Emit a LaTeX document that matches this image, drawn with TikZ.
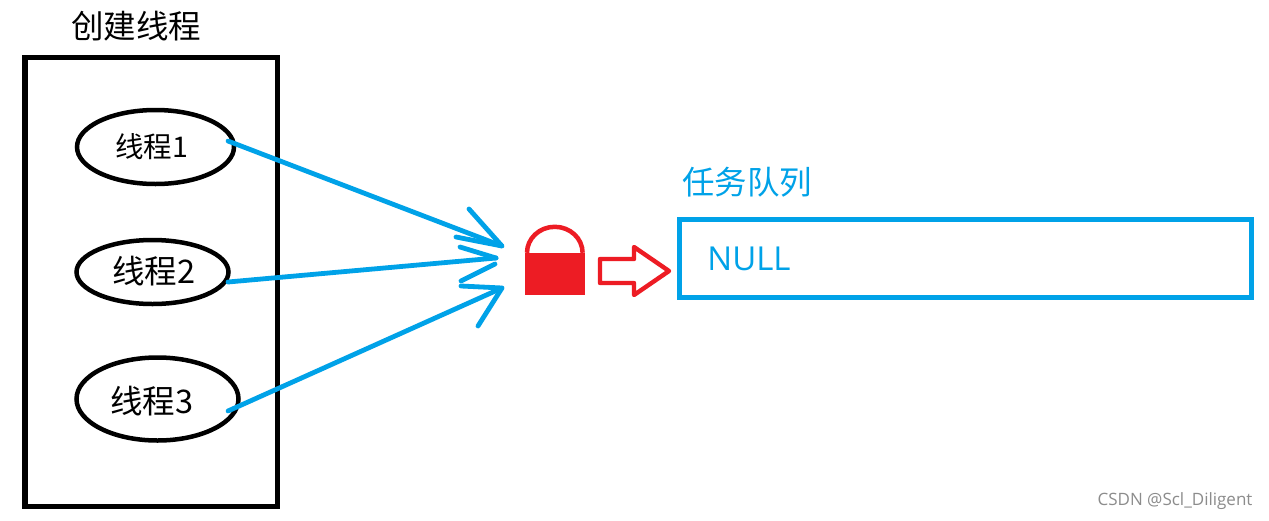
\documentclass[tikz,border=0pt]{standalone}
\usepackage{fontspec}
\setmainfont{Open Sans}
\newfontfamily\cjk{Noto Sans CJK SC}
\definecolor{bluec}{RGB}{0,162,232}
\definecolor{redc}{RGB}{237,28,36}
\tikzset{
  blk/.style={draw=black,line width=4.5pt},
  bluel/.style={draw=bluec,line width=4.8pt,line cap=round,line join=round},
  redl/.style={draw=redc,line width=4.4pt,line join=round},
  thr/.style={ellipse,blk,inner sep=0pt,minimum width=#1},
  lab/.style={inner sep=0pt,anchor=center}
}
\usetikzlibrary{shapes.geometric}
\begin{document}
\begin{tikzpicture}[x=1pt,y=-1pt]
\useasboundingbox (0,0) rectangle (1269,520);
\fill[white] (0,0) rectangle (1269,520);
% thread container
\node[draw=black,line width=5.5pt,minimum width=252.5pt,minimum height=449pt,inner sep=0pt] (box) at (151,282) {};
\node[lab] (title) at (136,26) {\fontsize{32.5}{32}\selectfont\cjk 创建线程};
% threads
\node[thr=157pt,minimum height=74pt] (t1) at (155.5,147) {};
\node[lab] at (151.5,147) {\fontsize{28.5}{28}\selectfont\cjk 线程1};
\node[thr=152pt,minimum height=64pt] (t2) at (152.5,272) {};
\node[lab] at (154,271) {\fontsize{32.5}{31}\selectfont\cjk 线程2};
\node[thr=162pt,minimum height=83pt] (t3) at (157.5,399) {};
\node[lab] at (152,401) {\fontsize{32.5}{31}\selectfont\cjk 线程3};
% queue
\node[draw=bluec,line width=5pt,minimum width=572pt,minimum height=78pt,inner sep=0pt] (queue) at (965,258) {};
\node[lab,text=bluec] (qt) at (747,182) {\fontsize{32.5}{32}\selectfont\cjk 任务队列};
\node[lab,text=bluec] (null) at (749,259) {\fontsize{33}{32}\selectfont NULL};
% lock
\node[fill=redc,minimum width=60pt,minimum height=42pt,inner sep=0pt] (lock) at (555,274) {};
\draw[redl,line width=4.5pt] (lock.north west)++(2.2,0) arc[start angle=180,end angle=0,x radius=27.8pt,y radius=26pt];
% red arrow
\coordinate (ra) at (600,259);
\draw[redl] (ra) -- (634,259) -- (634,247) -- (669,271) -- (634,295) -- (634,283) -- (600,283) -- cycle;
% blue arrows
\coordinate (s1) at (228,141);
\coordinate (s2) at (228,282);
\coordinate (s3) at (228,411);
\coordinate (e1) at (502,246);
\coordinate (e2a) at (496,258);
\coordinate (e2b) at (495,264);
\coordinate (e3) at (502,288);
\coordinate (b1a) at (469,209);
\coordinate (b1b) at (456,237);
\coordinate (b2a) at (460,247);
\coordinate (b2b) at (461,281);
\coordinate (b3a) at (461,286);
\coordinate (b3b) at (478,326);
\draw[bluel] (s1) -- (e1);
\draw[bluel] (b1a) -- (e1) -- (b1b);
\draw[bluel] (s2) -- (e2a);
\draw[bluel] (b2a) -- (e2a);
\draw[bluel] (b2b) -- (e2b);
\draw[bluel] (s3) -- (e3);
\draw[bluel] (b3a) -- (e3) -- (b3b);
% watermark
\node[lab,text=black!45] (wm) at (1175,501.5) {\fontsize{17}{17}\selectfont CSDN @Scl\_Diligent};
\end{tikzpicture}
\end{document}
